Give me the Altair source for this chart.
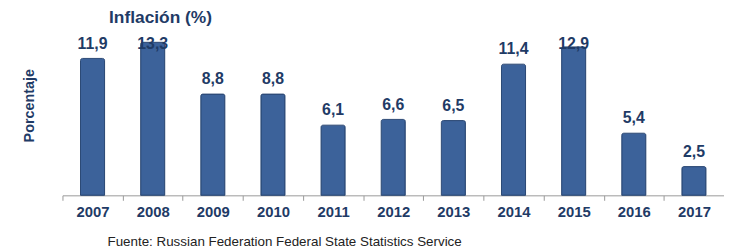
import altair as alt
import pandas as pd

years = ["2007", "2008", "2009", "2010", "2011", "2012", "2013", "2014", "2015", "2016", "2017"]
inflation = [11.9, 13.3, 8.8, 8.8, 6.1, 6.6, 6.5, 11.4, 12.9, 5.4, 2.5]

df = pd.DataFrame({"year": years, "value": inflation})
df["label"] = [f"{v:.1f}".replace(".", ",") for v in inflation]

navy = "#1F3B66"
W = 668
step = W / 11.0

base = alt.Chart(df).encode(
    x=alt.X(
        "year:N",
        sort=years,
        scale=alt.Scale(paddingInner=0.6, paddingOuter=0.3),
        axis=alt.Axis(
            title="Fuente: Russian Federation Federal State Statistics Service",
            titleFontWeight="normal",
            titleFontSize=13.5,
            titleFont="Liberation Sans",
            titleColor="#222222",
            titleAnchor="start",
            titleAlign="left",
            titleX=45,
            titleY=47,
            titleBaseline="middle",
            labelFont="Liberation Sans",
            labelFontWeight="bold",
            labelFontSize=15,
            labelColor=navy,
            labelPadding=4,
            labelAngle=0,
            tickColor="#999999",
            tickSize=5,
            bandPosition=0.5,
            tickOffset=-step / 2,
            labelOffset=step / 2,
            domainColor="#999999",
        ),
    ),
    y=alt.Y(
        "value:Q",
        scale=alt.Scale(domain=[0, 13.6], nice=False),
        axis=alt.Axis(
            title="Porcentaje",
            titleFont="Liberation Sans",
            titleFontWeight="bold",
            titleFontSize=14.5,
            titleColor=navy,
            titleX=-33,
            titleY=67,
            titleAngle=-90,
            titleAlign="center",
            titleBaseline="middle",
            labels=False,
            ticks=False,
            domain=False,
            grid=False,
        ),
    ),
)

bars = base.mark_bar(color="#3C629A", stroke="#2A4874", strokeWidth=1, cornerRadiusTopLeft=2, cornerRadiusTopRight=2)
text = (
    base.transform_calculate(label_y="min(datum.value, 11.9)")
    .mark_text(dy=-10, baseline="alphabetic", font="Liberation Sans", fontWeight="bold", fontSize=16, color=navy)
    .encode(y="label_y:Q", text="label:N")
)

chart = (
    alt.layer(bars, text)
    .properties(
        width=W,
        height=158,
        title=alt.TitleParams(
            "Inflación (%)",
            anchor="start",
            dx=88,
            dy=3,
            offset=12,
            font="Liberation Sans",
            fontSize=17.5,
            fontWeight="bold",
            color=navy,
        ),
        autosize=alt.AutoSizeParams(type="none"),
        padding={"left": 55, "top": 30, "right": 0, "bottom": 52},
    )
    .configure_view(stroke=None)
)

chart.save("out.html", embed_options={"renderer": "svg", "actions": False})
